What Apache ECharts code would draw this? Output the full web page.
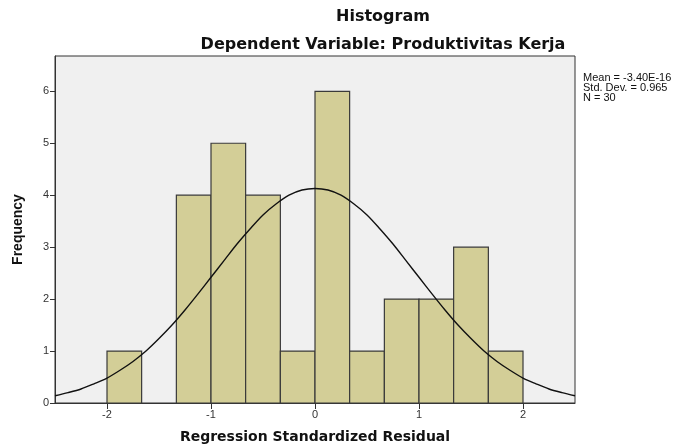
<!DOCTYPE html>
<html>
<head>
<meta charset="utf-8">
<script src="https://cdn.jsdelivr.net/npm/echarts@6/dist/echarts.min.js"></script>
<style>
  html, body { margin: 0; padding: 0; background: #fff; }
  #chart { width: 690px; height: 445px; }
</style>
</head>
<body>
<div id="chart"></div>
<script>
// histogram bins (left edge, right edge) and frequencies
var binLeft  = [-2.0, -1.667, -1.333, -1.0, -0.667, -0.333, 0.0, 0.333, 0.667, 1.0, 1.333, 1.667];
var binRight = [-1.667, -1.333, -1.0, -0.667, -0.333, 0.0, 0.333, 0.667, 1.0, 1.333, 1.667, 2.0];
var counts   = [1, 0, 4, 5, 4, 1, 6, 1, 2, 2, 3, 1];

// normal curve
var curveX = [-2.5, -2.375, -2.25, -2.125, -2.0, -1.875, -1.75, -1.625, -1.5, -1.375, -1.25, -1.125, -1.0, -0.875, -0.75, -0.625, -0.5, -0.375, -0.25, -0.125,
              0.0, 0.125, 0.25, 0.375, 0.5, 0.625, 0.75, 0.875, 1.0, 1.125, 1.25, 1.375, 1.5, 1.625, 1.75, 1.875, 2.0, 2.125, 2.25, 2.375, 2.5];
var curveY = [0.14, 0.20, 0.27, 0.37, 0.48, 0.63, 0.80, 1.00, 1.24, 1.50, 1.79, 2.10, 2.42, 2.74, 3.06, 3.35, 3.62, 3.83, 4.00, 4.10,
              4.13, 4.10, 4.00, 3.83, 3.62, 3.35, 3.06, 2.74, 2.42, 2.10, 1.79, 1.50, 1.24, 1.00, 0.80, 0.63, 0.48, 0.37, 0.27, 0.20, 0.14];

var xTicks = [-2, -1, 0, 1, 2];
var yTicks = [0, 1, 2, 3, 4, 5, 6];

var statsLines = ['Mean = -3.40E-16', 'Std. Dev. = 0.965', 'N = 30'];

var chart = echarts.init(document.getElementById('chart'));

var binData = [];
for (var i = 0; i < counts.length; i++) {
  if (counts[i] > 0) binData.push([binLeft[i], binRight[i], counts[i]]);
}
var curveData = curveX.map(function (x, i) { return [x, curveY[i]]; });

var font = '"Liberation Sans", Arial, sans-serif';
var wide = '"DejaVu Sans", sans-serif';

var option = {
  backgroundColor: '#ffffff',
  animation: false,
  grid: {
    left: 55, right: 115, top: 56, bottom: 42,
    outerBoundsMode: 'none',
    show: true,
    backgroundColor: '#f0f0f0',
    borderColor: '#333',
    borderWidth: 1
  },
  xAxis: {
    type: 'value',
    min: -2.5,
    max: 2.5,
    splitLine: { show: false },
    axisLine: { onZero: false, lineStyle: { color: '#333' } },
    axisTick: { show: true, length: 6, customValues: xTicks, lineStyle: { color: '#333' } },
    axisLabel: { customValues: xTicks, color: '#333', fontSize: 11, fontFamily: font, margin: 6 },
    name: 'Regression Standardized Residual',
    nameLocation: 'middle',
    nameGap: 27,
    nameTextStyle: { color: '#111', fontSize: 14, fontWeight: 'bold', fontFamily: wide }
  },
  yAxis: {
    type: 'value',
    min: 0,
    max: 6.68,
    splitLine: { show: false },
    axisLine: { show: true, onZero: false, lineStyle: { color: '#333' } },
    axisTick: { show: true, length: 5, customValues: yTicks, lineStyle: { color: '#333' } },
    axisLabel: { customValues: yTicks, color: '#333', fontSize: 11, fontFamily: font, margin: 6 },
    name: 'Frequency',
    nameLocation: 'middle',
    nameGap: 30,
    nameRotate: 90,
    nameTextStyle: { color: '#111', fontSize: 14, fontWeight: 'bold', fontFamily: font }
  },
  graphic: [
    {
      type: 'text', x: 383, y: 17,
      style: { text: 'Histogram', textAlign: 'center', textVerticalAlign: 'middle',
               font: 'bold 16px ' + wide, fill: '#111' }
    },
    {
      type: 'text', x: 383, y: 45,
      style: { text: 'Dependent Variable: Produktivitas Kerja', textAlign: 'center', textVerticalAlign: 'middle',
               font: 'bold 16px ' + wide, fill: '#111' }
    },
    {
      type: 'text', x: 583, y: 73,
      style: { text: statsLines.join('\n'), font: '11px ' + font, lineHeight: 10, fill: '#111' }
    }
  ],
  series: [
    {
      type: 'custom',
      data: binData,
      encode: { x: [0, 1], y: 2 },
      renderItem: function (params, api) {
        var p0 = api.coord([api.value(0), api.value(2)]);
        var p1 = api.coord([api.value(1), 0]);
        return {
          type: 'rect',
          shape: { x: p0[0], y: p0[1], width: p1[0] - p0[0], height: p1[1] - p0[1] },
          style: { fill: '#d3ce97', stroke: '#3a3a3a', lineWidth: 1.2 }
        };
      },
      z: 2
    },
    {
      type: 'line',
      data: curveData,
      smooth: 0.3,
      showSymbol: false,
      lineStyle: { color: '#111', width: 1.4 },
      z: 3
    }
  ]
};

chart.setOption(option);
</script>
</body>
</html>
